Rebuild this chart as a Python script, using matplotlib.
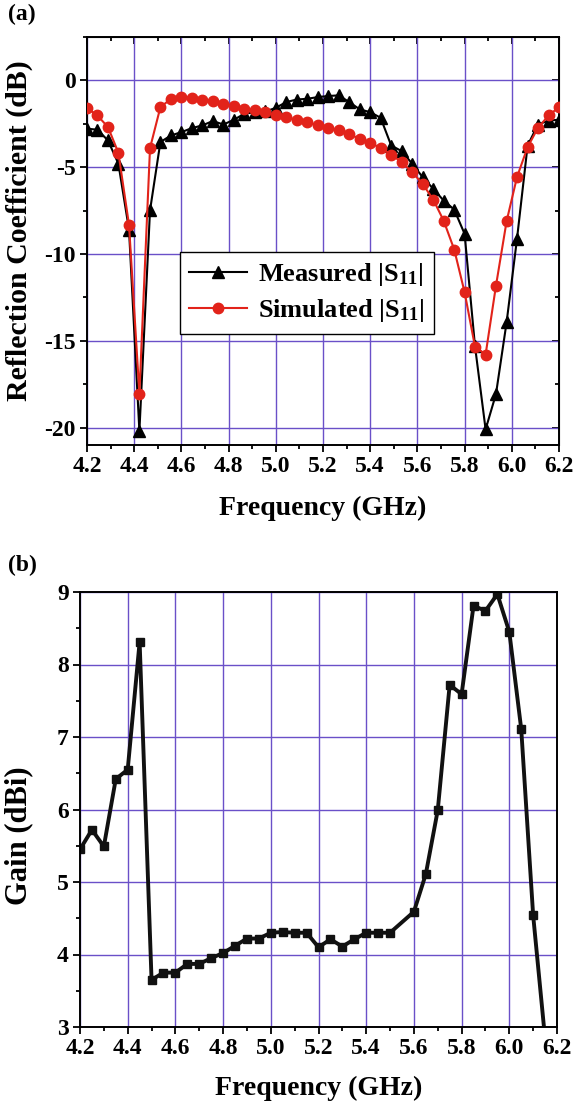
import numpy as np
import matplotlib
matplotlib.use("Agg")
import matplotlib.pyplot as plt
from matplotlib.ticker import MultipleLocator

plt.rcParams["font.family"] = ["Liberation Serif", "DejaVu Serif"]
plt.rcParams["font.weight"] = "bold"
plt.rcParams["axes.unicode_minus"] = False
plt.rcParams["mathtext.fontset"] = "custom"
plt.rcParams["mathtext.rm"] = "Liberation Serif:bold"
plt.rcParams["mathtext.bf"] = "Liberation Serif:bold"
plt.rcParams["mathtext.it"] = "Liberation Serif:bold"
plt.rcParams["mathtext.default"] = "bf"

# ---- (a) reflection coefficient, 46 points 4.2 .. 6.2 GHz ----
freq_s11 = [4.200, 4.244, 4.289, 4.333, 4.378, 4.422, 4.467, 4.511, 4.556, 4.600,
            4.644, 4.689, 4.733, 4.778, 4.822, 4.867, 4.911, 4.956, 5.000, 5.044,
            5.089, 5.133, 5.178, 5.222, 5.267, 5.311, 5.356, 5.400, 5.444, 5.489,
            5.533, 5.578, 5.622, 5.667, 5.711, 5.756, 5.800, 5.844, 5.889, 5.933,
            5.978, 6.022, 6.067, 6.111, 6.156, 6.200]

measured_s11 = [-2.78, -2.84, -3.46, -4.80, -8.59, -20.2, -7.49, -3.55, -3.17, -2.98,
                -2.75, -2.59, -2.34, -2.54, -2.27, -1.92, -1.83, -1.79, -1.58, -1.25,
                -1.10, -1.06, -0.96, -0.90, -0.86, -1.25, -1.67, -1.83, -2.15, -3.75,
                -4.07, -4.80, -5.57, -6.24, -6.92, -7.44, -8.84, -15.3, -20.1, -18.06,
                -13.93, -9.13, -3.75, -2.54, -2.31, -2.27]

simulated_s11 = [-1.59, -2.02, -2.69, -4.17, -8.32, -18.06, -3.90, -1.54, -1.06, -0.96,
                 -1.02, -1.11, -1.19, -1.34, -1.50, -1.63, -1.73, -1.83, -1.98, -2.11,
                 -2.27, -2.40, -2.58, -2.75, -2.84, -3.11, -3.36, -3.61, -3.88, -4.27,
                 -4.71, -5.28, -5.96, -6.86, -8.07, -9.74, -12.2, -15.33, -15.79, -11.82,
                 -8.11, -5.57, -3.84, -2.73, -2.02, -1.54]

# ---- (b) gain ----
freq_gain = [4.20, 4.25, 4.30, 4.35, 4.40, 4.45, 4.50, 4.55, 4.60, 4.65,
             4.70, 4.75, 4.80, 4.85, 4.90, 4.95, 5.00, 5.05, 5.10, 5.15,
             5.20, 5.25, 5.30, 5.35, 5.40, 5.45, 5.50, 5.60, 5.65, 5.70,
             5.75, 5.80, 5.85, 5.90, 5.95, 6.00, 6.05, 6.10, 6.15]

gain = [5.45, 5.72, 5.49, 6.42, 6.55, 8.31, 3.65, 3.75, 3.75, 3.87,
        3.87, 3.95, 4.02, 4.12, 4.22, 4.22, 4.30, 4.31, 4.30, 4.30,
        4.10, 4.21, 4.11, 4.21, 4.30, 4.30, 4.30, 4.59, 5.11, 5.99,
        7.72, 7.59, 8.81, 8.74, 8.97, 8.45, 7.11, 4.54, 2.84]

GRID = "#6a50c8"
W, H = 577, 1114
fig = plt.figure(figsize=(W / 100, H / 100), dpi=100)


def style_axes(ax):
    for s in ax.spines.values():
        s.set_linewidth(1.4)
    ax.grid(True, which="major", color=GRID, lw=1.0)
    ax.set_axisbelow(True)
    ax.tick_params(which="both", direction="out", labelsize=17, width=1.3, pad=3)
    ax.tick_params(which="major", length=5)
    ax.tick_params(which="minor", length=3)


# panel (a)
ax1 = fig.add_axes([87 / W, 1 - 445 / H, 472 / W, 408 / H])
style_axes(ax1)
ax1.plot(freq_s11, measured_s11, "-^", color="black", lw=1.5, ms=8.5,
         label=r"Measured |S$_{11}$|", zorder=3)
ax1.plot(freq_s11, simulated_s11, "-o", color="#e2231a", lw=1.5, ms=7.5,
         label=r"Simulated |S$_{11}$|", zorder=4)
ax1.set_xlim(4.2, 6.2)
ax1.set_ylim(-21, 2.5)
ax1.xaxis.set_major_locator(MultipleLocator(0.2))
ax1.xaxis.set_minor_locator(MultipleLocator(0.1))
ax1.yaxis.set_major_locator(MultipleLocator(5))
ax1.yaxis.set_minor_locator(MultipleLocator(2.5))
ax1.xaxis.set_major_formatter(lambda v, p: f"{v:.1f}")
ax1.yaxis.set_major_formatter(lambda v, p: f"{v:.0f}")
ax1.set_xlabel("Frequency (GHz)", fontsize=20, fontweight="bold")
ax1.set_ylabel("Reflection Coefficient (dB)", fontsize=21.5, fontweight="bold")
ax1.xaxis.set_label_coords(0.5, -0.125)
ax1.yaxis.set_label_coords(-0.114, 0.525)

top = ax1.secondary_xaxis("top")
top.xaxis.set_major_locator(MultipleLocator(0.2))
top.xaxis.set_minor_locator(MultipleLocator(0.1))
top.tick_params(which="both", direction="in", labeltop=False, width=1.3)
top.tick_params(which="major", length=5)
top.tick_params(which="minor", length=3)
right = ax1.secondary_yaxis("right")
right.yaxis.set_major_locator(MultipleLocator(5))
right.yaxis.set_minor_locator(MultipleLocator(2.5))
right.tick_params(which="both", direction="in", labelright=False, width=1.3)
right.tick_params(which="major", length=5)
right.tick_params(which="minor", length=3)

leg = ax1.legend(loc="upper left", bbox_to_anchor=(0.197, 0.473), fontsize=19,
                 frameon=True, fancybox=False, edgecolor="black", framealpha=1,
                 handlelength=2.2, borderpad=0.35, labelspacing=0.35,
                 handletextpad=0.4, borderaxespad=0)
leg.get_frame().set_linewidth(1.0)

# panel (b)
ax2 = fig.add_axes([80 / W, 1 - 1027 / H, 477 / W, 435 / H])
style_axes(ax2)
ax2.plot(freq_gain, gain, "-s", color="#111111", lw=2.8, ms=6)
ax2.set_xlim(4.2, 6.2)
ax2.set_ylim(3, 9)
ax2.xaxis.set_major_locator(MultipleLocator(0.2))
ax2.xaxis.set_minor_locator(MultipleLocator(0.1))
ax2.yaxis.set_major_locator(MultipleLocator(1))
ax2.yaxis.set_minor_locator(MultipleLocator(0.5))
ax2.xaxis.set_major_formatter(lambda v, p: f"{v:.1f}")
ax2.yaxis.set_major_formatter(lambda v, p: f"{v:.0f}")
ax2.set_xlabel("Frequency (GHz)", fontsize=20, fontweight="bold")
ax2.set_ylabel("Gain (dBi)", fontsize=22, fontweight="bold")
ax2.xaxis.set_label_coords(0.5, -0.112)
ax2.yaxis.set_label_coords(-0.098, 0.44)

fig.text(8 / W, 1 - 4 / H, "(a)", fontsize=17, fontweight="bold", va="top")
fig.text(8 / W, 1 - 555 / H, "(b)", fontsize=17, fontweight="bold", va="top")

fig.savefig("out.png", dpi=100)
